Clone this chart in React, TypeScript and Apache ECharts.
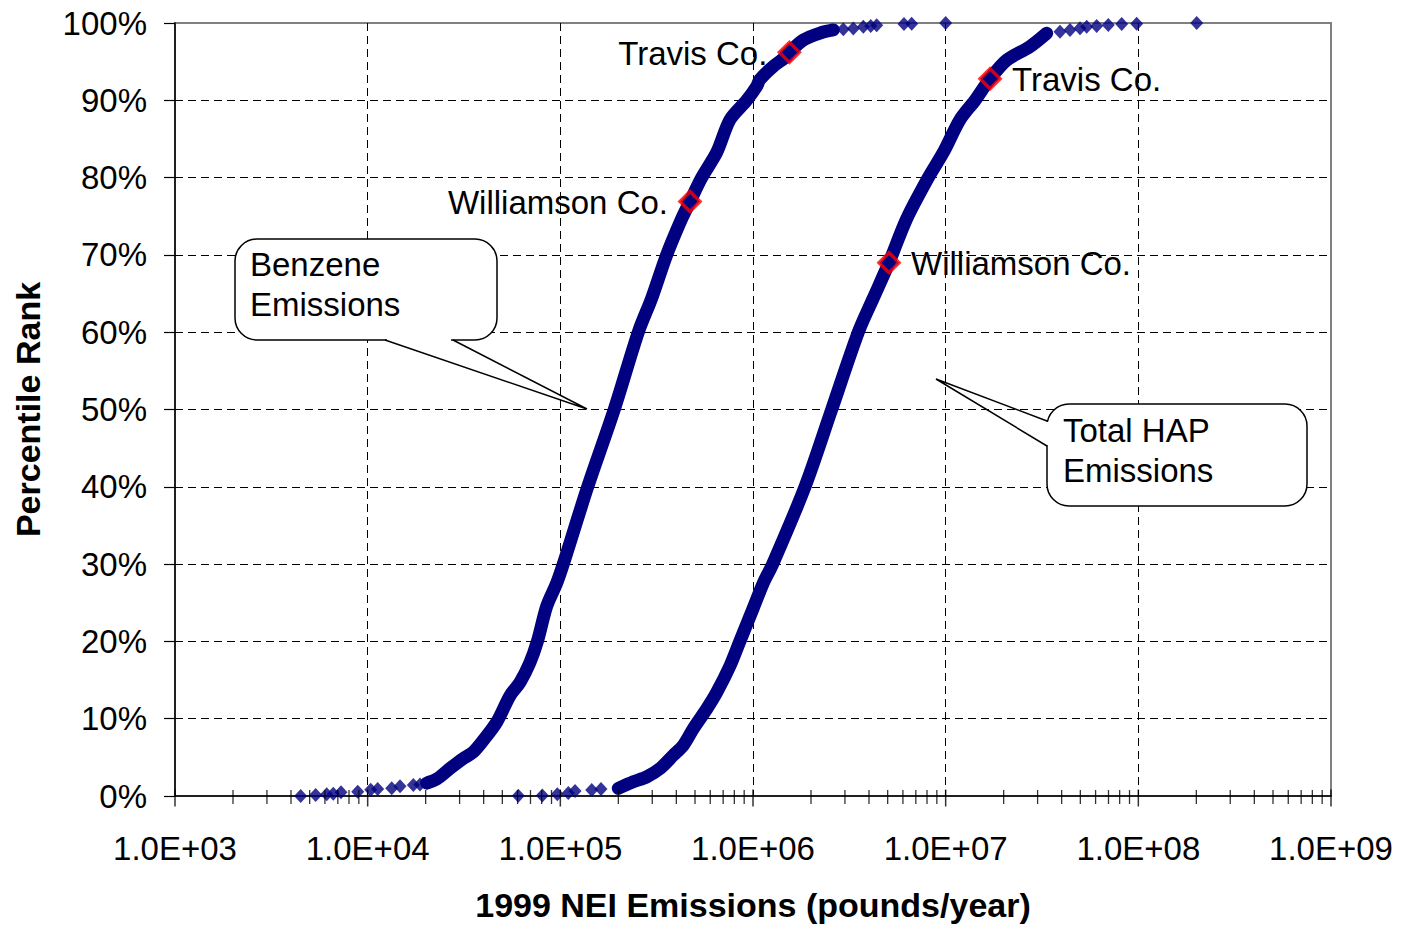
import React, { useEffect, useRef } from "react";
import * as echarts from "echarts";

// ---- data (emissions in pounds/year, percentile rank in %) ----
const benzeneLowTail: [number, number][] = [
  [4490, 0.0], [5370, 0.13], [6130, 0.22], [6630, 0.3], [7270, 0.48], [8880, 0.55],
  [10370, 0.81], [11270, 0.9], [13330, 1.0], [14720, 1.25], [17260, 1.41], [18690, 1.5], [20250, 1.67],
];
const benzeneCurve: [number, number][] = [
  [20250, 1.67], [22820, 2.19], [26750, 3.56], [31350, 4.85], [35340, 5.69], [39820, 7.2],
  [46740, 9.55], [54790, 12.98], [61740, 14.69], [69570, 17.26], [75940, 19.96], [84970, 24.55],
  [95740, 27.54], [103600, 30.0], [138700, 40.0], [190500, 50.0], [253900, 60.0], [298000, 64.4],
  [356500, 70.0], [426600, 74.68], [471000, 76.9], [541600, 80.0], [647900, 83.25], [759700, 87.5],
  [927500, 90.0], [1045000, 91.8], [1087000, 92.7], [1275000, 94.4], [1496000, 95.7], [1545000, 96.2],
  [1824000, 97.8], [2227000, 98.7], [2611000, 99.1],
];
const benzeneHighTail: [number, number][] = [
  [2943000, 99.2], [3316000, 99.3], [3737000, 99.5], [4083000, 99.6], [4385000, 99.7],
  [6076000, 99.87], [6662000, 99.9], [10000000, 100.0],
];
const hapLowTail: [number, number][] = [
  [60510, 0.03], [80620, 0.07], [96440, 0.22], [110000, 0.39], [119200, 0.64], [145500, 0.77], [162600, 0.9],
];
const hapCurve: [number, number][] = [
  [199900, 0.99], [239200, 1.84], [280700, 2.48], [329100, 3.56], [385800, 5.27], [434700, 6.56],
  [489800, 8.7], [575200, 11.27], [647900, 13.4], [759700, 16.84], [855900, 20.05], [996300, 24.13],
  [1131000, 27.54], [1265000, 30.0], [1862000, 40.0], [2561000, 50.0], [3520000, 60.0], [4210000, 64.4],
  [5080000, 69.0], [6276000, 74.68], [8125000, 80.0], [9720000, 83.25], [11870000, 87.5],
  [14200000, 90.0], [17000000, 92.8], [20740000, 95.2], [27390000, 96.95], [33440000, 98.67],
];
const hapHighTail: [number, number][] = [
  [39210000, 98.88], [44190000, 99.1], [49800000, 99.32], [53950000, 99.5], [60770000, 99.6],
  [69820000, 99.74], [81960000, 99.87], [98040000, 99.9], [200900000, 100.0],
];

const countyNames = ["Travis Co.", "Williamson Co."];
const benzeneCounty: [number, number][] = [[1545000, 96.2], [471000, 76.9]];
const hapCounty: [number, number][] = [[17000000, 92.8], [5080000, 69.0]];

const xMajorTicks = [1e3, 1e4, 1e5, 1e6, 1e7, 1e8, 1e9];
const xTickLabels = ["1.0E+03", "1.0E+04", "1.0E+05", "1.0E+06", "1.0E+07", "1.0E+08", "1.0E+09"];
const minorMultipliers = [2, 3, 4, 5, 6, 7, 8, 9];
const yTickLabels = ["0%", "10%", "20%", "30%", "40%", "50%", "60%", "70%", "80%", "90%", "100%"];

const FONT = "'Liberation Sans', Arial, Helvetica, sans-serif";
const NAVY = "#000080";
const FS = 33;

export default function App() {
  const ref = useRef<HTMLDivElement>(null);

  useEffect(() => {
    const chart = echarts.init(ref.current!, null, { renderer: "svg" });

    const minorTicks: [number, number][] = [];
    for (let i = 0; i < xMajorTicks.length - 1; i++) {
      for (const m of minorMultipliers) minorTicks.push([xMajorTicks[i] * m, 0]);
    }

    const calloutText = (text: string, x: number, y: number) => ({
      type: "text",
      z: 12,
      x,
      y,
      style: { text, fontSize: FS, fill: "#000", fontFamily: FONT, verticalAlign: "middle" },
    });

    const option: any = {
      animation: false,
      backgroundColor: "#ffffff",
      textStyle: { fontFamily: FONT },
      grid: {
        left: 175,
        top: 23,
        width: 1156,
        height: 778,
        show: true,
        borderColor: "#808080",
        borderWidth: 2,
        backgroundColor: "transparent",
        containLabel: false,
      },
      xAxis: {
        type: "log",
        logBase: 10,
        min: 1e3,
        max: 1e9,
        interval: 1,
        splitNumber: 6,
        name: "1999 NEI Emissions (pounds/year)",
        nameLocation: "middle",
        nameGap: 92,
        nameTextStyle: { fontSize: 34, fontWeight: "bold", color: "#000", fontFamily: FONT },
        axisLine: { show: true, onZero: false, lineStyle: { color: "#000", width: 1.5 } },
        axisTick: { show: false },
        axisLabel: {
          fontSize: FS,
          color: "#000",
          fontFamily: FONT,
          margin: 36,
          formatter: (v: number) => {
            const idx = xMajorTicks.findIndex((t) => Math.abs(Math.log10(t) - Math.log10(v)) < 1e-6);
            return idx >= 0 ? xTickLabels[idx] : "";
          },
        },
        splitLine: {
          show: true,
          showMinLine: false,
          showMaxLine: false,
          lineStyle: { color: "#000", width: 1, type: [8, 5] },
        },
      },
      yAxis: {
        type: "value",
        min: 0,
        max: 100,
        interval: 10,
        name: "Percentile Rank",
        nameLocation: "middle",
        nameGap: 130,
        nameRotate: 90,
        nameTextStyle: { fontSize: 34, fontWeight: "bold", color: "#000", fontFamily: FONT },
        axisLine: { show: true, onZero: false, lineStyle: { color: "#000", width: 1.5 } },
        axisTick: { show: true, inside: false, length: 11, lineStyle: { color: "#000", width: 1.2 } },
        axisLabel: {
          fontSize: FS,
          color: "#000",
          fontFamily: FONT,
          margin: 28,
          formatter: (v: number) => yTickLabels[Math.round(v / 10)] ?? "",
        },
        splitLine: {
          show: true,
          showMinLine: false,
          showMaxLine: false,
          lineStyle: { color: "#000", width: 1, type: [8, 5] },
        },
      },
      series: [
        {
          name: "Benzene",
          type: "line",
          data: benzeneCurve,
          symbol: "none",
          showSymbol: false,
          smooth: 0.3,
          silent: true,
          z: 3,
          lineStyle: { color: NAVY, width: 13, cap: "round", join: "round" },
        },
        {
          name: "Benzene tails",
          type: "scatter",
          data: [...benzeneLowTail, ...benzeneHighTail],
          symbol: "diamond",
          symbolSize: [13, 14],
          silent: true,
          z: 3,
          itemStyle: { color: NAVY },
        },
        {
          name: "Total HAP",
          type: "line",
          data: hapCurve,
          symbol: "none",
          showSymbol: false,
          smooth: 0.3,
          silent: true,
          z: 3,
          lineStyle: { color: NAVY, width: 13, cap: "round", join: "round" },
        },
        {
          name: "Total HAP tails",
          type: "scatter",
          data: [...hapLowTail, ...hapHighTail],
          symbol: "diamond",
          symbolSize: [13, 14],
          silent: true,
          z: 3,
          itemStyle: { color: NAVY },
        },
        {
          name: "Counties",
          type: "scatter",
          data: [...benzeneCounty, ...hapCounty],
          symbol: "diamond",
          symbolSize: 20,
          silent: true,
          z: 5,
          itemStyle: { color: NAVY, borderColor: "#ff0000", borderWidth: 3.5 },
        },
        {
          name: "major ticks",
          type: "scatter",
          data: xMajorTicks.map((v) => [v, 0]),
          symbol: "rect",
          symbolSize: [1.5, 17],
          symbolOffset: [0, 2],
          clip: false,
          silent: true,
          z: 6,
          itemStyle: { color: "#000" },
        },
        {
          name: "minor ticks",
          type: "scatter",
          data: minorTicks,
          symbol: "rect",
          symbolSize: [1.3, 14],
          symbolOffset: [0, 1],
          clip: false,
          silent: true,
          z: 6,
          itemStyle: { color: "#000" },
        },
      ],
      graphic: [
        // Benzene callout
        {
          type: "rect",
          z: 10,
          shape: { x: 235, y: 239, width: 262, height: 101, r: 22 },
          style: { fill: "#fff", stroke: "#000", lineWidth: 1.5 },
        },
        {
          type: "line",
          z: 11,
          shape: { x1: 387, y1: 340, x2: 451, y2: 340 },
          style: { stroke: "#fff", lineWidth: 3 },
        },
        {
          type: "polyline",
          z: 12,
          shape: { points: [[385, 340], [587, 409], [453, 340]] },
          style: { fill: null, stroke: "#000", lineWidth: 1.5 },
        },
        calloutText("Benzene", 250, 264),
        calloutText("Emissions", 250, 304),
        // Total HAP callout
        {
          type: "rect",
          z: 10,
          shape: { x: 1047, y: 404, width: 260, height: 102, r: 22 },
          style: { fill: "#fff", stroke: "#000", lineWidth: 1.5 },
        },
        {
          type: "line",
          z: 11,
          shape: { x1: 1047, y1: 422, x2: 1047, y2: 445 },
          style: { stroke: "#fff", lineWidth: 3 },
        },
        {
          type: "polyline",
          z: 12,
          shape: { points: [[1047, 421], [936, 379], [1047, 446]] },
          style: { fill: null, stroke: "#000", lineWidth: 1.5 },
        },
        calloutText("Total HAP", 1063, 430),
        calloutText("Emissions", 1063, 470),
      ],
    };

    chart.setOption(option);

    // county labels placed next to their markers through the chart's own scales
    const labelEls: any[] = [];
    const addLabels = (pts: [number, number][], side: "left" | "right") => {
      pts.forEach((p, i) => {
        const px = chart.convertToPixel({ gridIndex: 0 }, p) as number[];
        labelEls.push({
          type: "text",
          z: 13,
          x: side === "left" ? px[0] - 22 : px[0] + 22,
          y: px[1] + 1,
          style: {
            text: countyNames[i],
            fontSize: FS,
            fill: "#000",
            fontFamily: FONT,
            align: side === "left" ? "right" : "left",
            verticalAlign: "middle",
          },
        });
      });
    };
    addLabels(benzeneCounty, "left");
    addLabels(hapCounty, "right");
    chart.setOption({ graphic: [...option.graphic, ...labelEls] }, { replaceMerge: ["graphic"] });

    return () => chart.dispose();
  }, []);

  return (
    <div
      ref={ref}
      style={{ position: "fixed", left: 0, top: 0, width: 1401, height: 927, background: "#fff" }}
    />
  );
}
